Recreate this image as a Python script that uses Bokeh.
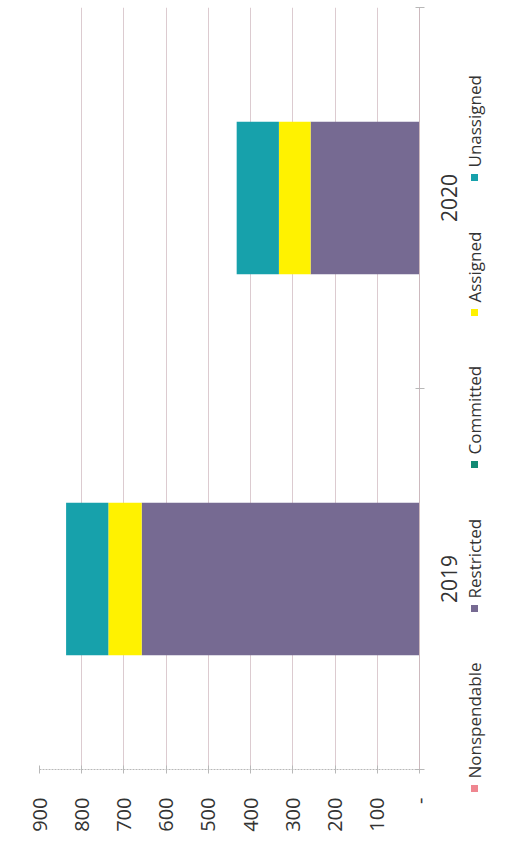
import math
from bokeh.plotting import figure
from bokeh.models import ColumnDataSource, Range1d, FixedTicker
from bokeh.layouts import row
from bokeh.embed import file_html
from bokeh.resources import INLINE
from bokeh.core.properties import value

# ---- data ----
years = ["2019", "2020"]
series = ["Nonspendable", "Restricted", "Committed", "Assigned", "Unassigned"]
nonspendable = [0, 0]
restricted = [658, 258]
committed = [0, 0]
assigned = [79, 75]
unassigned = [100, 100]
value_ticks = [0, 100, 200, 300, 400, 500, 600, 700, 800, 900]
value_tick_labels = ["-", "100", "200", "300", "400", "500", "600", "700", "800", "900"]
colors = ["#EF8690", "#766A92", "#128A74", "#FFF200", "#17A1AB"]

FONT = "Open Sans"
TEXT_COLOR = "#333333"

H = 851
MAIN_W, SIDE_W = 433, 73
LEFT, RIGHT, TOP, BOTTOM = 39, 14, 7, 82
frame_h = H - TOP - BOTTOM

# numeric positions for categories (centres of category bands)
n_cat = len(years)
cat_pos = [i + 0.5 for i in range(n_cat)]
source = ColumnDataSource(dict(
    y=cat_pos,
    Nonspendable=nonspendable,
    Restricted=restricted,
    Committed=committed,
    Assigned=assigned,
    Unassigned=unassigned,
))

x_max = value_ticks[-1]
p = figure(width=MAIN_W, height=H,
           x_range=Range1d(x_max, 0), y_range=Range1d(0, n_cat),
           output_backend="svg", toolbar_location=None,
           y_axis_location="right",
           min_border_left=LEFT, min_border_right=RIGHT,
           min_border_top=TOP, min_border_bottom=BOTTOM)
p.outline_line_color = None
p.background_fill_color = "white"
p.border_fill_color = "white"
p.frame_align = False

p.hbar_stack(series, y="y", height=0.4, color=colors, source=source,
             line_color=None)

# value axis (bottom)
xa = p.xaxis[0]
xa.ticker = FixedTicker(ticks=value_ticks, minor_ticks=[])
xa.major_label_overrides = {t: l for t, l in zip(value_ticks, value_tick_labels)}
xa.major_label_orientation = math.pi / 2
xa.major_label_text_font = FONT
xa.major_label_text_font_size = "20px"
xa.major_label_text_color = TEXT_COLOR
xa.major_label_standoff = 24
xa.axis_line_color = "#b8b8b8"
xa.axis_line_dash = "2 1"
xa.major_tick_line_color = "#b8b8b8"
xa.major_tick_in = 4
xa.major_tick_out = 4
xa.minor_tick_line_color = None

# category axis line (right) with ticks between categories
ya = p.yaxis[0]
ya.ticker = FixedTicker(ticks=[], minor_ticks=list(range(n_cat + 1)))
ya.major_label_standoff = 0
ya.axis_line_color = "#cdb9be"
ya.major_tick_line_color = None
ya.major_tick_in = 0
ya.major_tick_out = 0
ya.minor_tick_line_color = "#b8b8b8"
ya.minor_tick_in = 4
ya.minor_tick_out = 5

p.xgrid.ticker = FixedTicker(ticks=value_ticks)
p.xgrid.grid_line_color = "#dccbd0"
p.xgrid.grid_line_width = 1
p.ygrid.grid_line_color = None

# ---- side panel: category labels + rotated legend ----
side = figure(width=SIDE_W, height=H,
              x_range=Range1d(0, SIDE_W), y_range=Range1d(H, 0),
              output_backend="svg", toolbar_location=None,
              min_border=0, min_border_left=0, min_border_right=0,
              min_border_top=0, min_border_bottom=0)
side.frame_align = False
side.axis.visible = False
side.grid.visible = False
side.outline_line_color = None
side.border_fill_color = "white"
side.background_fill_color = "white"

# a category scale identical to the main plot's, spanning the full panel height
u = n_cat / frame_h
side.extra_y_ranges = {"cat": Range1d(-BOTTOM * u, n_cat + TOP * u)}

cat_label_x = 15
side.text(x=[cat_label_x] * n_cat, y=cat_pos, text=years, y_range_name="cat",
          angle=math.pi / 2, text_align="center", text_baseline="middle",
          text_font=value(FONT), text_font_size="21px", text_color=TEXT_COLOR)

legend_x = 41
legend_marker_py = [788, 608, 464, 312, 177]
side.rect(x=[legend_x] * len(series), y=legend_marker_py, width=7, height=7,
          fill_color=colors, line_color=None)
side.text(x=[legend_x] * len(series), y=[m - 10 for m in legend_marker_py],
          text=series, angle=math.pi / 2,
          text_align="left", text_baseline="middle",
          text_font=value(FONT), text_font_size="17px", text_color=TEXT_COLOR)

layout = row(p, side, spacing=0)
open("out.html", "w").write(file_html(layout, INLINE))
